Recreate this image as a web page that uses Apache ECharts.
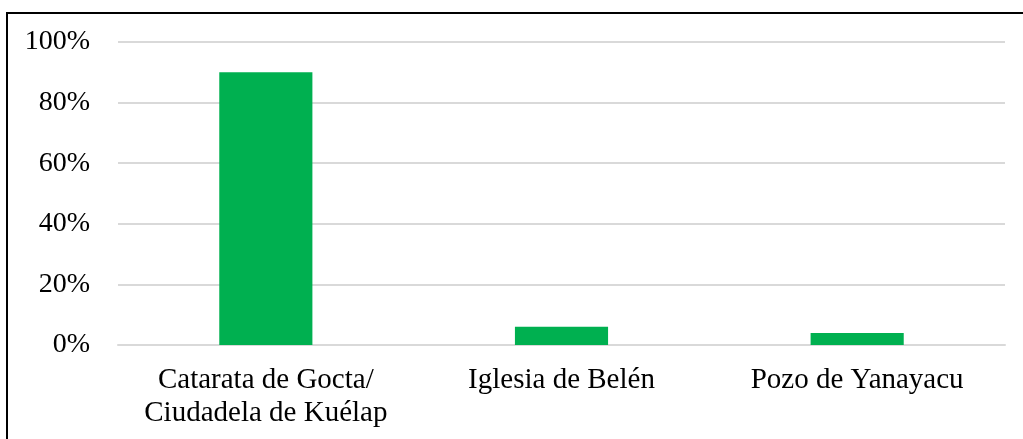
<!DOCTYPE html>
<html>
<head>
<meta charset="utf-8">
<script src="https://cdn.jsdelivr.net/npm/echarts@6/dist/echarts.min.js"></script>
<style>
  html, body { margin: 0; padding: 0; background: #fff; }
  #main { width: 1023px; height: 439px; }
</style>
</head>
<body>
<div id="main"></div>
<script>
  // sitios turisticos y porcentaje de preferencia
  const categories = ['Catarata de Gocta/\nCiudadela de Kuélap', 'Iglesia de Belén', 'Pozo de Yanayacu'];
  const values = [90, 6, 4];
  const yTicks = [0, 20, 40, 60, 80, 100];

  const font = '"Liberation Serif", "Times New Roman", serif';
  let myechart = echarts.init(document.getElementById('main'));
  let option = {
    animation: false,
    grid: { left: 118, right: 18, top: 42, bottom: 94 },
    graphic: [{
      type: 'rect',
      shape: { x: 7, y: 13, width: 1100, height: 500 },
      style: { fill: 'none', stroke: '#000', lineWidth: 2 },
      silent: true
    }],
    xAxis: {
      type: 'category',
      data: categories,
      axisTick: { show: false },
      axisLine: { lineStyle: { color: '#d9d9d9', width: 2 } },
      axisLabel: {
        interval: 0,
        color: '#000',
        fontFamily: font,
        fontSize: 29,
        lineHeight: 33,
        margin: 19
      }
    },
    yAxis: {
      type: 'value',
      min: yTicks[0],
      max: yTicks[yTicks.length - 1],
      interval: 20,
      axisLine: { show: false },
      axisTick: { show: false },
      splitLine: { lineStyle: { color: '#d9d9d9', width: 2 } },
      axisLabel: {
        color: '#000',
        fontFamily: font,
        fontSize: 28,
        margin: 28,
        formatter: '{value}%'
      }
    },
    series: [{
      type: 'bar',
      data: values,
      barWidth: '31.5%',
      itemStyle: { color: '#00b050' }
    }]
  };
  myechart.setOption(option);
</script>
</body>
</html>
